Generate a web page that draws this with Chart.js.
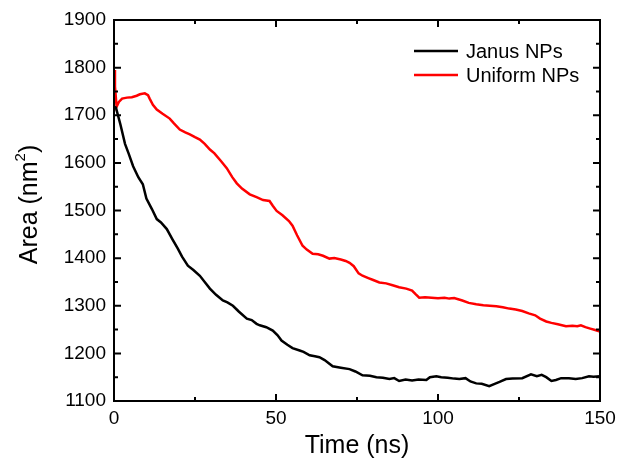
<!DOCTYPE html>
<html><head><meta charset="utf-8">
<script src="https://cdn.jsdelivr.net/npm/chart.js@4"></script>
<style>html,body{margin:0;padding:0;background:#fff}#wrap{width:620px;height:458px}</style>
</head><body><div id="wrap"><canvas id="c" width="620" height="458"></canvas></div>
<script>
const janusT = [0,0.6,2,3.4,4.5,5.9,7.5,8.9,10,11.7,13.2,14.5,16.3,18,19.7,21,22.8,24.5,26.5,28,29.6,31.5,33.6,35,36.7,38.5,41,42.5,44,45,47,49,50.5,51.7,53.5,55.1,57.3,58.5,60.4,62,63.4,65,67.5,70,72.7,74.5,76.7,79,81,83,85,86.5,88,90,92,94,96.4,97.5,99.5,101,103,105,106.6,108.5,110,111.8,113.5,115.8,117.5,119,121,123,126,128.7,130.5,132,133.4,135,136.4,138,140.4,142.5,144.5,146.6,148,150];
const janusA = [1718,1716,1680,1640,1620,1593,1570,1555,1525,1503,1482,1475,1461,1440,1420,1403,1384,1375,1363,1350,1336,1323,1311,1307,1300,1288,1273,1270,1262,1259,1255,1248,1238,1227,1218,1211,1206,1203,1196,1194,1192,1186,1173,1170,1167,1162,1154,1153,1150,1149,1146,1148,1142,1145,1143,1145,1144,1150,1152,1150,1149,1147,1146,1148,1141,1137,1136,1131,1136,1140,1146,1147,1148,1156,1152,1155,1150,1142,1144,1148,1148,1146,1148,1152,1151,1152];
const uniformT = [0,0.3,0.8,1.5,2.5,4,5.5,7,8,9.5,10.5,11,12,13.2,15,17.2,18.5,20.3,22,23.4,25,26.5,28,29.6,31,33,34.8,36.5,37.9,39.5,41.9,44,46,48,49,50.2,52,54,55.1,56.5,58.2,59.5,61.3,63,64.5,66.5,68,70,71.5,72.7,74,75.5,76.7,78.5,80,81.9,84,86,88,90.2,92,93,94.2,96,98,100,102,103.5,105,107.5,109.5,111.8,114,116,118,120,122,124,126,128,130,131.5,133.4,135,137,139.5,141.5,143,144.1,145.5,147,148.5,150];
const uniformA = [1795,1760,1718,1728,1735,1737,1738,1741,1744,1746,1742,1735,1722,1712,1703,1693,1683,1670,1664,1660,1654,1649,1640,1628,1620,1604,1589,1570,1557,1546,1534,1528,1522,1520,1510,1499,1490,1478,1468,1448,1426,1418,1409,1408,1405,1399,1400,1397,1394,1390,1383,1368,1363,1358,1354,1349,1347,1343,1339,1336,1332,1325,1317,1318,1317,1316,1317,1315,1316,1311,1306,1303,1301,1300,1299,1297,1294,1292,1289,1284,1280,1273,1267,1264,1261,1257,1258,1257,1259,1255,1252,1249,1246];
const seriesNames = ['Janus NPs','Uniform NPs'];
const xTicks = [0,50,100,150];
const yTicks = [1100,1200,1300,1400,1500,1600,1700,1800,1900];
const FONT = '"Liberation Sans", Arial, sans-serif';

const toPts = (t,a) => t.map((v,i)=>({x:v,y:a[i]}));

const frame = {
  id:'frame',
  afterDatasetsDraw(chart){
    const {ctx, chartArea:ca, scales:{x,y}} = chart;
    ctx.save();
    ctx.strokeStyle='#000'; ctx.lineWidth=2;
    ctx.strokeRect(ca.left, ca.top, ca.right-ca.left, ca.bottom-ca.top);
    const major=7, minor=4;
    for(let v=0; v<=150; v+=25){
      const px=x.getPixelForValue(v); const L=(v%50===0)?major:minor;
      ctx.beginPath(); ctx.moveTo(px,ca.bottom); ctx.lineTo(px,ca.bottom-L);
      ctx.moveTo(px,ca.top); ctx.lineTo(px,ca.top+L); ctx.stroke();
    }
    for(let v=1100; v<=1900; v+=50){
      const py=y.getPixelForValue(v); const L=(v%100===0)?major:minor;
      ctx.beginPath(); ctx.moveTo(ca.left,py); ctx.lineTo(ca.left+L,py);
      ctx.moveTo(ca.right,py); ctx.lineTo(ca.right-L,py); ctx.stroke();
    }
    // legend
    ctx.font='20px '+FONT;
    ctx.textBaseline='middle'; ctx.textAlign='left';
    chart.data.datasets.forEach((ds,i)=>{
      const yy = ca.top + 31 + i*24;
      const x0 = ca.left + 300;
      ctx.strokeStyle=ds.borderColor; ctx.lineWidth=2.5;
      ctx.beginPath(); ctx.moveTo(x0,yy); ctx.lineTo(x0+44,yy); ctx.stroke();
      ctx.fillStyle='#000'; ctx.fillText(ds.label, x0+52, yy+1);
    });
    // y-axis title with superscript
    const cy = (ca.top+ca.bottom)/2 - 6;
    ctx.translate(30, cy); ctx.rotate(-Math.PI/2);
    ctx.fillStyle='#000'; ctx.textBaseline='middle';
    const main1='Area (nm', sup='2', main2=')';
    ctx.font='25px '+FONT; const w1=ctx.measureText(main1).width, w3=ctx.measureText(main2).width;
    ctx.font='15px '+FONT; const w2=ctx.measureText(sup).width;
    const total=w1+w2+w3; let sx=-total/2;
    ctx.textAlign='left';
    ctx.font='25px '+FONT; ctx.fillText(main1, sx, 0); sx+=w1;
    ctx.font='15px '+FONT; ctx.fillText(sup, sx, -9); sx+=w2;
    ctx.font='25px '+FONT; ctx.fillText(main2, sx, 0);
    ctx.restore();
  }
};

new Chart(document.getElementById('c'), {
  type:'line',
  data:{datasets:[
    {label:seriesNames[0], data:toPts(janusT,janusA), borderColor:'#000000', borderWidth:2.5, pointRadius:0, tension:0, fill:false},
    {label:seriesNames[1], data:toPts(uniformT,uniformA), borderColor:'#ff0000', borderWidth:2.5, pointRadius:0, tension:0, fill:false}
  ]},
  options:{
    responsive:false, animation:false, devicePixelRatio:1,
    layout:{padding:{top:20,right:20,left:0,bottom:0}},
    plugins:{legend:{display:false}, tooltip:{enabled:false}},
    scales:{
      x:{type:'linear', min:0, max:150,
        afterBuildTicks(s){ s.ticks = xTicks.map(v=>({value:v})); },
        afterFit(s){ s.height = 57; s.paddingLeft = 0; s.paddingRight = 0; },
        grid:{display:false, drawTicks:false}, border:{display:false},
        ticks:{color:'#000', padding:6, maxRotation:0, callback:v=>String(v), font:{family:FONT, size:19}},
        title:{display:true, text:'Time (ns)', color:'#000', padding:{top:0,bottom:-3}, font:{family:FONT, size:25}}
      },
      y:{type:'linear', min:1100, max:1900,
        afterBuildTicks(s){ s.ticks = yTicks.map(v=>({value:v})); },
        afterFit(s){ s.width = 114; s.paddingTop = 0; s.paddingBottom = 0; },
        grid:{display:false, drawTicks:false}, border:{display:false},
        ticks:{color:'#000', padding:8, callback:v=>String(v), font:{family:FONT, size:19}},
        title:{display:false}
      }
    }
  },
  plugins:[frame]
});
</script></body></html>
